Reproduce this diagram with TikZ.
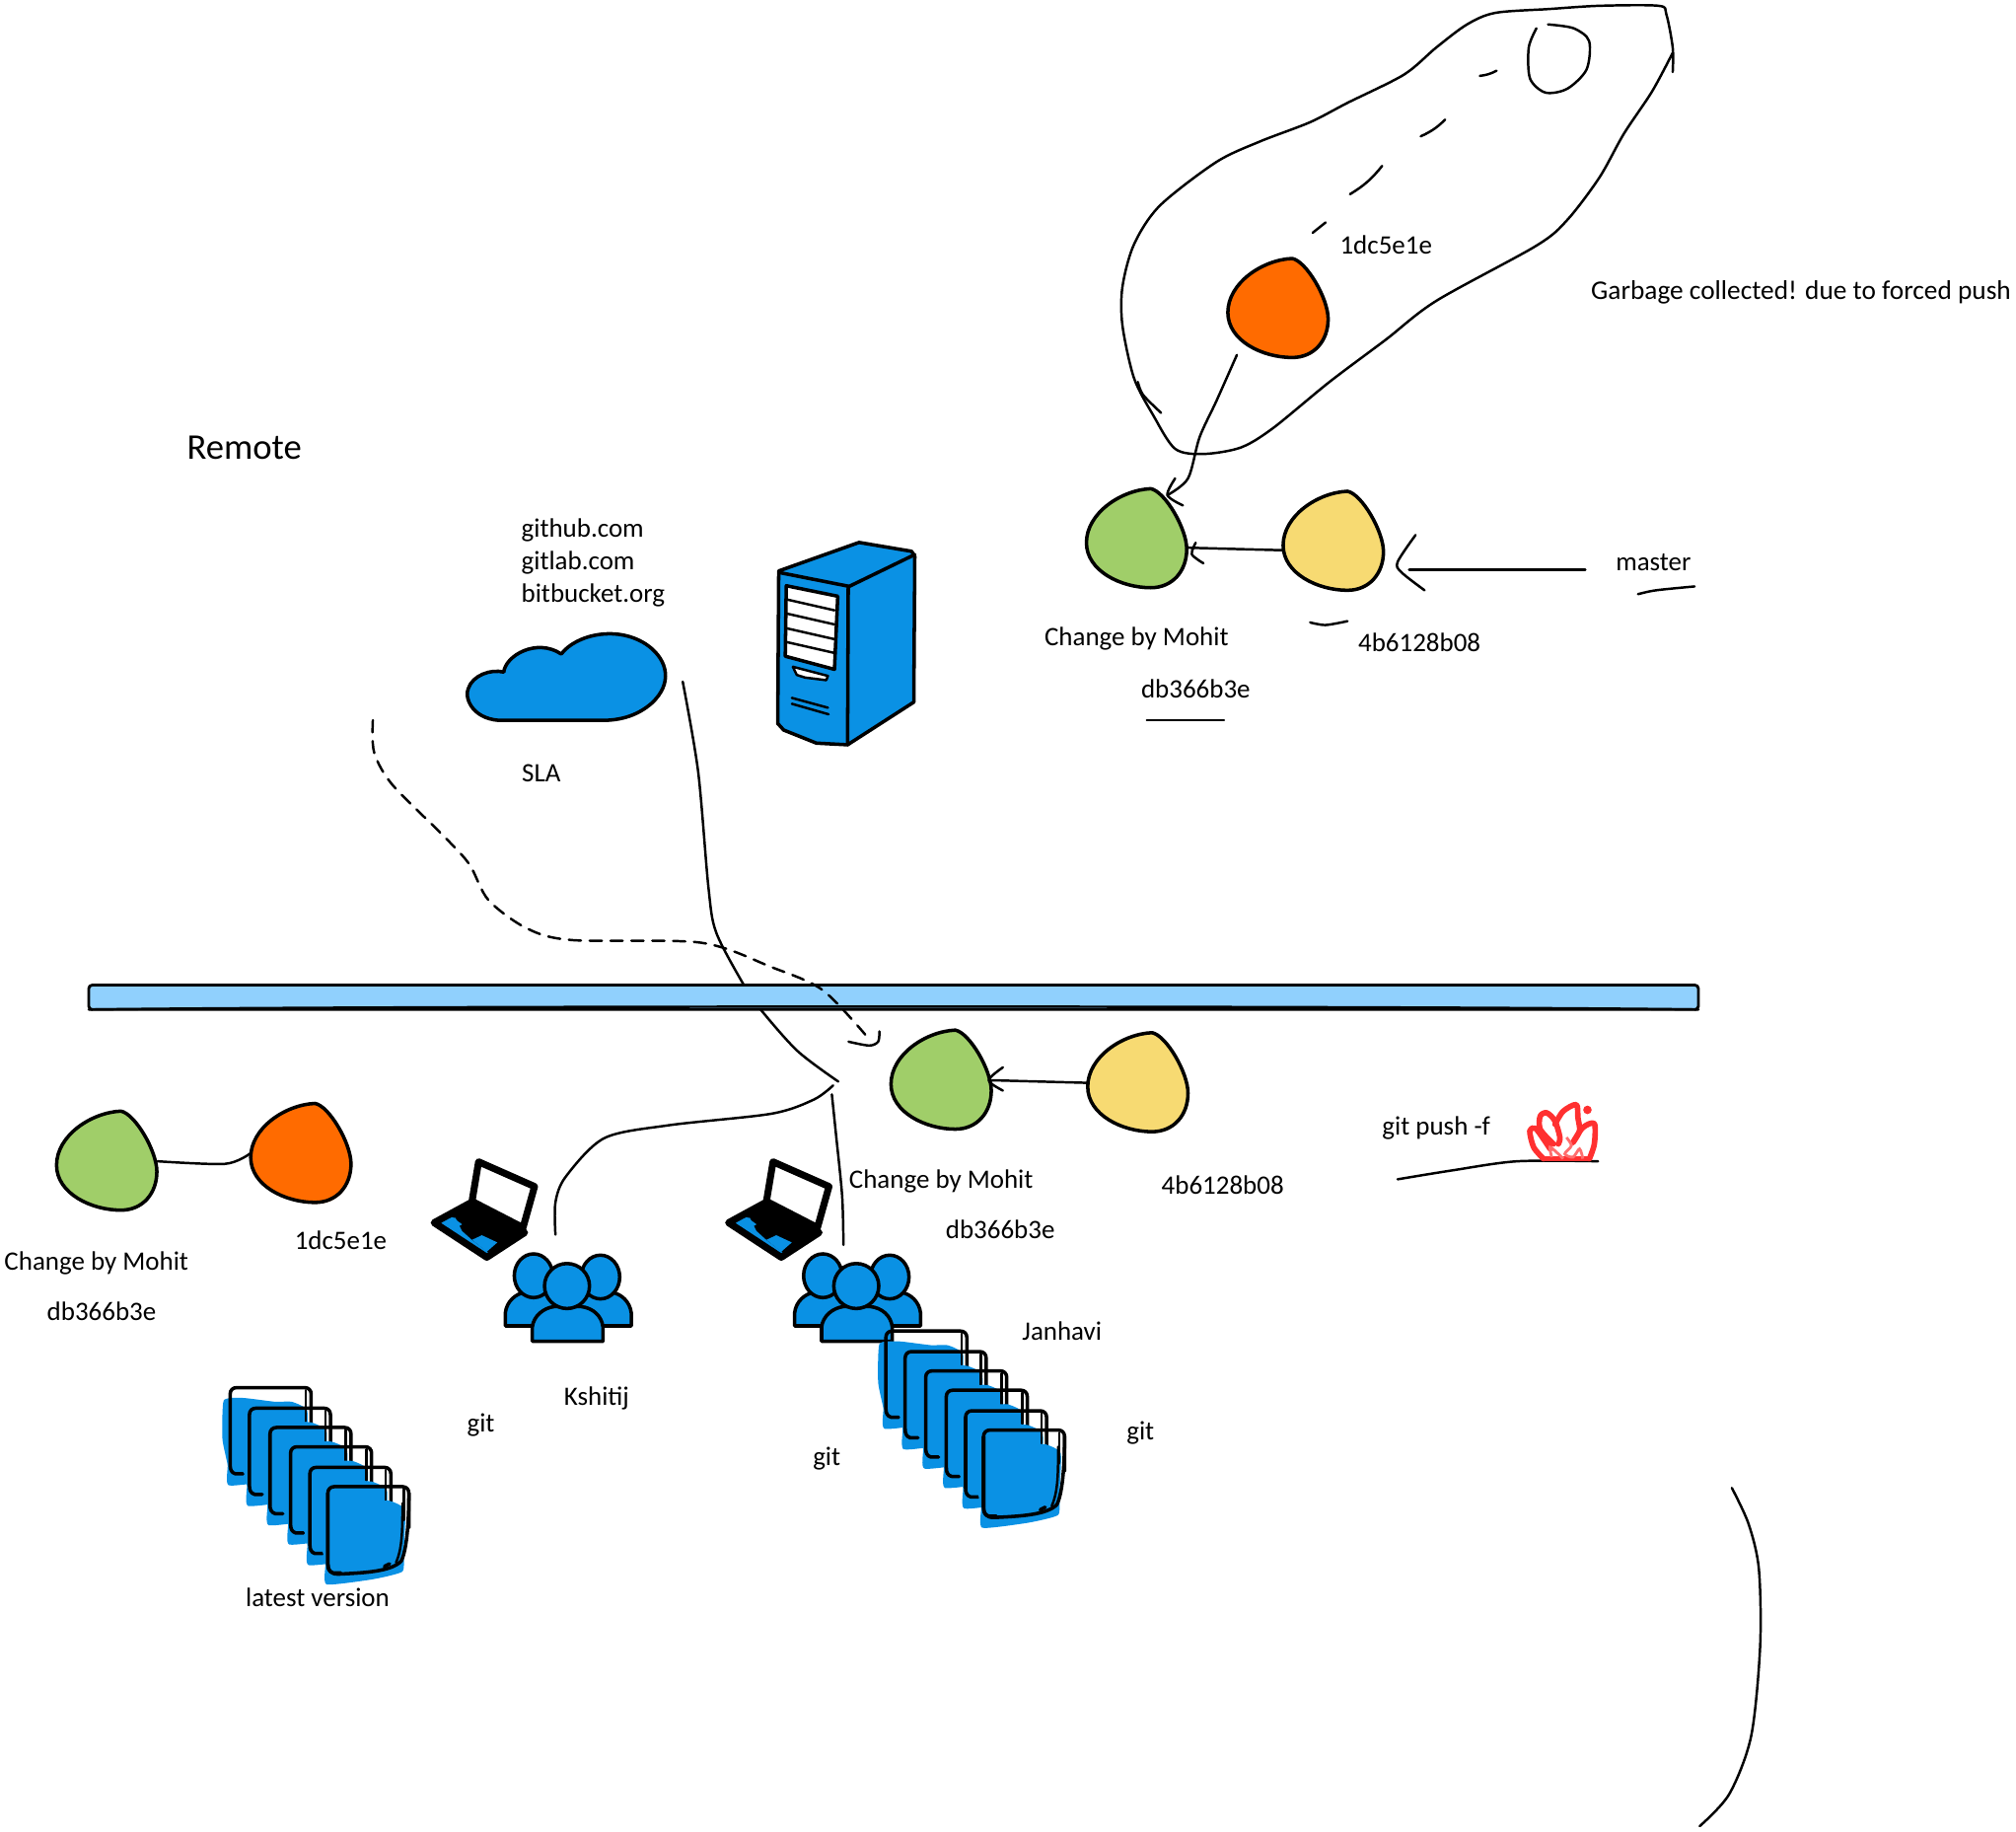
\documentclass[tikz,border=0pt]{standalone}
\usepackage{fontspec}
\setmainfont{Carlito}
\definecolor{leafgreen}{HTML}{A0CE69}
\definecolor{sandyellow}{HTML}{F7DA72}
\definecolor{burnorange}{HTML}{FF6B00}
\definecolor{iconblue}{HTML}{0A91E4}
\definecolor{barblue}{HTML}{90D0FD}
\definecolor{firered}{HTML}{FF3030}
\tikzset{
    x=0.013cm, y=-0.013cm,
    sketch/.style={line width=0.7pt, line cap=round, line join=round},
    heavy/.style={line width=1pt, line cap=round, line join=round},
    flame/.style={line width=1.6pt, firered, line cap=round, line join=round},
    note/.style={inner sep=0pt, yshift=-0.5pt, font=\fontsize{7.65}{9.4}\selectfont},
    commitspot/.style={circle, inner sep=0pt, minimum size=1.014cm}
}

% Commit: name, x, y, colour
\newcommand{\commit}[4]{
    \fill[#4, shift={(#2,#3)}] (12,-39) .. controls (23,-37) and (40,-8) .. (40,8) .. controls (40,25) and (29,39) .. (12,39) .. controls (-11,39) and (-39,26) .. (-39,3) .. controls (-39,-20) and (-11,-38) .. (12,-39) -- cycle;
    \draw[heavy, shift={(#2,#3)}] (11,-39) .. controls (22,-37) and (39,-8) .. (39,8) .. controls (39,25) and (28,38) .. (11,38) .. controls (-12,38) and (-39,25) .. (-39,3) .. controls (-39,-20) and (-12,-38) .. (11,-39) -- cycle;
    \node[commitspot] (#1) at (#2,#3) {};
}

% Laptop
\newcommand{\laptop}[2]{
    \begin{scope}[shift={(#1,#2)}, scale=0.256]
        \fill[iconblue] (30,210) -- (140,150) -- (305,240) -- (190,315) -- cycle;
        \draw[line width=2pt, line join=round, fill=white] (165,25) -- (335,100) -- (300,225) -- (145,145) -- cycle;
        \fill (60,195) -- (140,150) -- (300,240) -- (195,300) -- (145,262) -- (115,235) -- (95,195) -- cycle;
        \fill[iconblue] (45,210) -- (85,193) -- (115,215) -- (80,235) -- cycle;
        \fill[iconblue] (145,262) -- (175,248) -- (222,270) -- (190,298) -- cycle;
        \draw[line width=2pt, line join=round] (30,210) -- (140,150) -- (305,240) -- (190,315) -- cycle;
    \end{scope}
}

% Group of three people
\newcommand{\people}[2]{
    \begin{scope}[shift={(#1,#2)}]
        \filldraw[heavy, fill=iconblue] (0,56) -- (0,46) .. controls (1,37) and (8,31) .. (15,30) -- (45,30) -- (45,56) -- cycle;
        \filldraw[heavy, fill=iconblue] (98,56) -- (98,46) .. controls (97,37) and (90,31) .. (83,30) -- (55,30) -- (55,56) -- cycle;
        \filldraw[heavy, fill=iconblue] (22,17) ellipse (15 and 17);
        \filldraw[heavy, fill=iconblue] (74,18) ellipse (15 and 17);
        \filldraw[heavy, fill=iconblue] (21,68) -- (21,57) .. controls (22,48) and (30,42) .. (38,41) -- (59,41) .. controls (68,42) and (75,48) .. (76,57) -- (76,68) -- cycle;
        \filldraw[heavy, fill=iconblue] (48,25) ellipse (17.5 and 17.5);
    \end{scope}
}

% Stack of six files
\newcommand{\filestack}[2]{
    \begin{scope}[shift={(#1,#2)}]
        \foreach \dx/\dy in {0/0, 15/16, 31/31, 47/46, 62/62, 76/77} {
            \fill[iconblue, shift={(\dx,\dy)}] plot[smooth cycle, tension=0.3] coordinates {(-5,10) (10,8) (35,11) (48,11) (60,18) (59,50) (58,66) (35,72) (-1,76) (-2,60) (-6,40)};
            \draw[heavy, shift={(\dx,\dy)}] (10,67) -- (4,67) .. controls (1,66) and (0,64) .. (0,60) -- (0,5) .. controls (0,2) and (2,0) .. (5,0) -- (58,0) .. controls (61,0) and (63,2) .. (63,5) -- (63,32);
            \draw[sketch, shift={(\dx,\dy)}] (59,2) -- (59,26);
        }
        \draw[heavy] (76,82) -- (76,137) .. controls (76,142) and (78,145) .. (84,145) .. controls (105,144) and (125,143) .. (133,135) .. controls (138,125) and (139,100) .. (139,82);
        \draw[sketch] (134,90) .. controls (134,110) and (134,125) .. (129,136);
        \draw[heavy] (120,139) -- (124,137);
    \end{scope}
}

\begin{document}
\begin{tikzpicture}
    \useasboundingbox (0,0) rectangle (1568,1423.8);

    % Commits at the top
    \commit{orangeTop}{994}{240}{burnorange}
    \commit{greenTop}{884}{419}{leafgreen}
    \commit{yellowTop}{1037}{421}{sandyellow}

    % Garbage collected outline
    \draw[sketch] plot[smooth] coordinates {(1301,56) (1301,37) (1296,11) (1290,4.5) (1244,4.5) (1205,7) (1163,10) (1141,19) (1117,37) (1092,58) (1048,80) (1019,95) (980,110) (946,126) (902,160) (882,190) (873,223) (873,253) (882,294) (897,323) (914,349) (936,353) (965,348) (990,333) (1034,297) (1078,264) (1117,234) (1195,191) (1219,171) (1244,138) (1263,104) (1285,71) (1301,41)};
    \draw[sketch] plot[smooth] coordinates {(885,297) (889,307) (903,321)};
    \draw[sketch] plot[smooth] coordinates {(1195,22) (1189,37) (1190,61) (1202,72) (1219,69) (1234,54) (1236,32) (1224,22) (1204,19)};
    \draw[sketch] (1151,59) to[bend right=10] (1164,55);
    \draw[sketch] (1105,106) to[bend right=10] (1124,93);
    \draw[sketch] (1050,151) to[bend right=10] (1075,129);
    \draw[sketch] (1021,181) -- (1031,173);

    % Connectors at the top
    \coordinate (orangeTail) at (962,276);
    \coordinate (greenTip) at (908,385);
    \draw[sketch] plot[smooth] coordinates {(orangeTail) (946,312) (933,340) (924,372) (greenTip)};
    \draw[sketch] plot[smooth] coordinates {(914,372) (908,385) (920,393)};
    \draw[sketch] plot[smooth] coordinates {(yellowTop.190) (965,427) (greenTop.-10)};
    \draw[sketch] plot[smooth] coordinates {(930,422) (927,431) (936,438)};
    \coordinate (masterTail) at (1233,443);
    \coordinate (masterTip) at (1096,443);
    \draw[sketch] (masterTail) -- (masterTip);
    \draw[sketch] plot[smooth] coordinates {(1101,416) (1087,437) (1090,445) (1108,459)};

    % Underlines
    \draw[sketch] plot[smooth] coordinates {(1274,462) (1288,459) (1318,456)};
    \draw[sketch] plot[smooth] coordinates {(1019,484) (1031,486) (1048,483)};
    \draw[sketch] (892,560) -- (952,560);

    % Texts at the top
    \node[note] (orangeHash) at (1078,189) {1dc5e1e};
    \node[note, anchor=west, font=\fontsize{7.75}{9.4}\selectfont] (garbage) at (1237,226) {Garbage collected! due to forced push};
    \node[note] (master) at (1286,436) {master};
    \node[note] (mohitTop) at (884,495) {Change by Mohit};
    \node[note] (yellowHash) at (1104,498) {4b6128b08};
    \node[note] (greenHash) at (930,534) {db366b3e};
    \node[note, font=\fontsize{10.4}{13}\selectfont] (remote) at (190,347) {Remote};
    \node[note, align=left, anchor=west] (hosts) at (405,436) {github.com\\gitlab.com\\bitbucket.org};
    \node[note] (sla) at (421,600) {SLA};

    % Cloud
    \begin{scope}[shift={(353.5,483)}, scale=0.2555]
        \filldraw[heavy, fill=iconblue] (150,155) .. controls (155,105) and (250,50) .. (325,100) .. controls (370,40) and (500,10) .. (590,75) .. controls (650,120) and (665,190) .. (600,250) .. controls (560,285) and (510,302) .. (450,302) -- (135,302) .. controls (50,295) and (30,230) .. (42,205) .. controls (55,165) and (110,145) .. (150,155) -- cycle;
    \end{scope}

    % Server
    \begin{scope}[shift={(584,407)}, scale=0.255]
        \filldraw[heavy, fill=iconblue] (85,145) -- (330,58) -- (490,85) -- (500,100) -- (497,545) -- (295,675) -- (200,670) -- (100,630) -- (82,610) -- cycle;
        \draw[heavy] (88,150) -- (300,192) -- (500,95);
        \draw[heavy] (297,192) -- (295,675);
        \filldraw[heavy, fill=white] (108,190) -- (265,222) -- (255,445) -- (105,405) -- cycle;
        \foreach \slat in {0,43,88,130} {
            \draw[sketch] (110,232+\slat) -- (255,265+\slat);
        }
        \filldraw[sketch, fill=white] (128,437) -- (235,465) -- (230,478) -- (165,470) -- (140,462) -- cycle;
        \draw[sketch] (125,532) -- (235,562);
        \draw[sketch] (125,550) -- (237,582);
    \end{scope}

    % Lines towards the users
    \coordinate (cloudTail) at (531,530);
    \coordinate (hubRight) at (652,841);
    \draw[sketch] plot[smooth] coordinates {(cloudTail) (543,600) (551,690) (557,725) (578,765) (590,783) (620,817) (hubRight)};
    \coordinate (hubLeft) at (648,844);
    \coordinate (kshitijTop) at (432,960);
    \draw[sketch] plot[smooth] coordinates {(hubLeft) (633,855) (600,866) (520,875) (470,885) (440,915) (432,935) (kshitijTop)};
    \coordinate (hubDown) at (647,851);
    \coordinate (janhaviTop) at (656,968);
    \draw[sketch] plot[smooth] coordinates {(hubDown) (650,880) (655,930) (janhaviTop)};

    % Separator
    \filldraw[line width=0.8pt, line join=round, fill=barblue, rounded corners=1pt] (69,766) rectangle (1321,785);
    \draw[sketch] (69,785) .. controls (300,782) and (1100,782) .. (1321,785);

    % Dashed path
    \coordinate (slaTail) at (290,560);
    \coordinate (dashTip) at (676,808);
    \draw[sketch, dash pattern=on 3.5pt off 2.5pt] plot[smooth] coordinates {(slaTail) (291,585) (305,610) (345,650) (365,672) (380,700) (410,722) (445,731) (545,733) (600,752) (640,770) (dashTip)};
    \draw[sketch] plot[smooth] coordinates {(660,810) (676,813) (683,810) (684,802)};

    % Commits in the middle
    \commit{greenLow}{732}{840}{leafgreen}
    \commit{yellowLow}{885}{842}{sandyellow}
    \draw[sketch] (yellowLow.west) -- (greenLow.east);
    \draw[sketch] plot[smooth] coordinates {(780,830) (769,840) (780,848)};
    \node[note] (mohitLow) at (732,917) {Change by Mohit};
    \node[note] (greenLowHash) at (778,955) {db366b3e};
    \node[note] (yellowLowHash) at (951,920) {4b6128b08};

    % Commits on the left
    \commit{greenLeft}{83}{903}{leafgreen}
    \commit{orangeLeft}{234}{897}{burnorange}
    \draw[sketch] plot[smooth] coordinates {(greenLeft.east) (175,905) (orangeLeft.west)};
    \node[note] (mohitLeft) at (75,981) {Change by Mohit};
    \node[note] (orangeLeftHash) at (265,963) {1dc5e1e};
    \node[note] (greenLeftHash) at (79,1018) {db366b3e};

    % Force push
    \node[note] (pushForce) at (1117,876) {git push -f};
    \draw[sketch] plot[smooth] coordinates {(1087,917) (1130,910) (1180,903) (1243,903)};
    \begin{scope}[shift={(1073,836)}, scale=0.255]
        \draw[flame] plot[smooth] coordinates {(500,255) (470,220) (458,170) (475,162) (500,195) (520,225)};
        \draw[flame] plot[smooth] coordinates {(530,210) (490,165) (490,125) (510,115) (535,140) (550,190) (545,210)};
        \draw[flame] plot[smooth] coordinates {(535,150) (560,110) (600,90) (605,130) (610,170) (590,205)};
        \draw[flame] plot[smooth] coordinates {(590,205) (620,160) (655,148) (655,210) (640,255)};
        \draw[flame] (500,255) -- (640,255);
        \fill[firered] (634,106) circle (13);
        \draw[line width=0.8pt, firered!70!white] plot[smooth] coordinates {(525,250) (520,220) (545,240) (560,255)};
        \draw[line width=0.8pt, firered!70!white] plot[smooth] coordinates {(570,190) (585,215) (565,240) (590,250) (610,225) (620,255)};
    \end{scope}

    % Users
    \laptop{330}{897}
    \laptop{559}{897}
    \people{393}{975}
    \people{618}{975}
    \node[note] (kshitij) at (464,1086) {Kshitij};
    \node[note] (janhavi) at (826,1034) {Janhavi};
    \node[note] (gitKshitij) at (374,1107) {git};
    \node[note] (gitJanhavi) at (643,1133) {git};
    \node[note] (gitStack) at (887,1113) {git};

    % File stacks
    \filestack{179}{1079}
    \filestack{689}{1035}
    \node[note] (latest) at (247,1241) {latest version};

    % Curve in the corner
    \coordinate (cornerTop) at (1347,1157);
    \coordinate (cornerEnd) at (1322,1420);
    \draw[sketch] plot[smooth] coordinates {(cornerTop) (1360,1185) (1368,1220) (1369,1280) (1362,1350) (1345,1395) (cornerEnd)};
\end{tikzpicture}
\end{document}
